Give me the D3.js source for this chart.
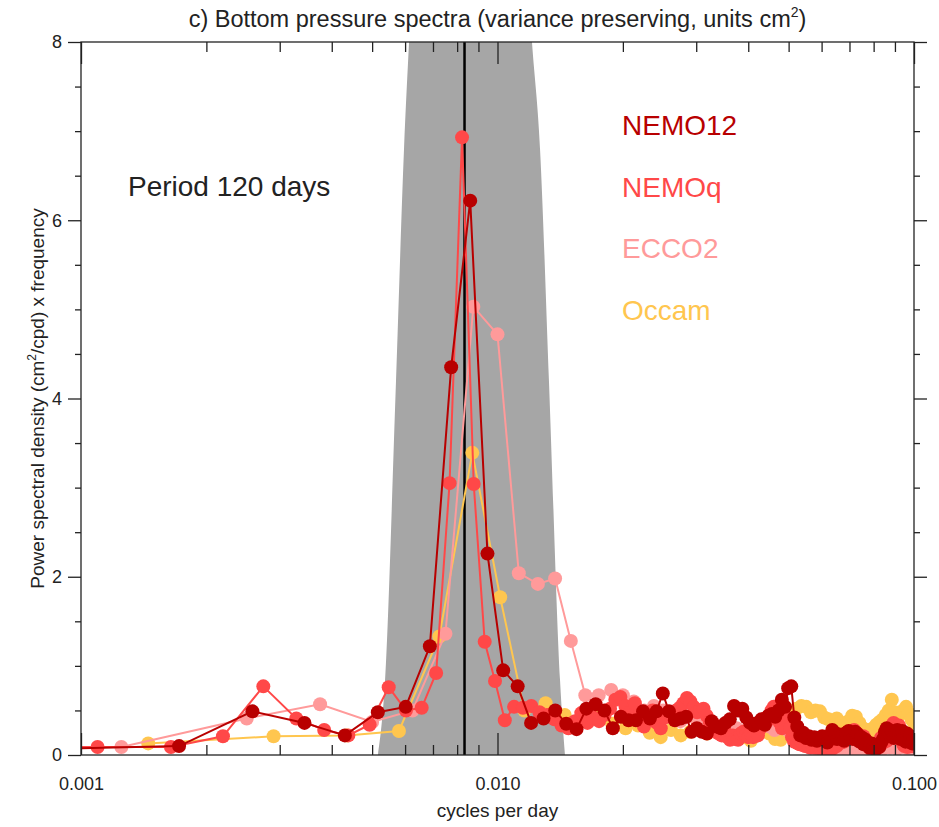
<!DOCTYPE html>
<html>
<head>
<meta charset="utf-8">
<script src="https://cdn.jsdelivr.net/npm/d3@7"></script>
<style>
  body { margin: 0; background: #fff; }
  svg text { font-family: "Liberation Sans", Arial, Helvetica, sans-serif; fill: #222; }
</style>
</head>
<body>
<div id="chart"></div>
<script>
// frequency spacing (cycles per day) of each spectral estimate, k = 1, 2, 3 ...
const nemo12Step = 0.00086;
const nemoqStep = 0.000548;
const ecco2Step = 0.00125;
const occamStep = 0.00145;

const nemo12Values = [
  0.07, 0.10, 0.49, 0.36, 0.22, 0.48, 0.54, 1.22, 4.35, 6.22,
  2.26, 0.95, 0.77, 0.36, 0.41, 0.50, 0.35, 0.29, 0.52, 0.57,
  0.50, 0.30, 0.43, 0.39, 0.39, 0.49, 0.41, 0.49, 0.69, 0.49,
  0.39, 0.41, 0.43, 0.26, 0.30, 0.26, 0.24, 0.38, 0.32, 0.30,
  0.36, 0.40, 0.55, 0.50, 0.52, 0.42, 0.36, 0.33, 0.36, 0.40,
  0.34, 0.44, 0.46, 0.43, 0.50, 0.62, 0.54, 0.75, 0.77, 0.42,
  0.32, 0.22, 0.25, 0.19, 0.21, 0.17, 0.20, 0.16, 0.19, 0.21,
  0.19, 0.14, 0.22, 0.28, 0.25, 0.18, 0.23, 0.22, 0.16, 0.25,
  0.27, 0.21, 0.18, 0.26, 0.24, 0.15, 0.20, 0.12, 0.17, 0.14,
  0.08, 0.13, 0.10, 0.06, 0.11, 0.09, 0.14, 0.18, 0.26, 0.30,
  0.24, 0.22, 0.27, 0.19, 0.25, 0.28, 0.22, 0.18, 0.27, 0.20,
  0.15, 0.24, 0.17, 0.21, 0.13, 0.18
];

const nemoqValues = [
  0.08, 0.09, 0.09, 0.21, 0.77, 0.41, 0.28, 0.22, 0.34, 0.76,
  0.50, 0.53, 0.92, 3.05, 6.93, 3.04, 1.27, 0.83, 0.39, 0.54,
  0.53, 0.55, 0.48, 0.45, 0.40, 0.33, 0.30, 0.38, 0.47, 0.36,
  0.42, 0.38, 0.45, 0.52, 0.62, 0.65, 0.55, 0.48, 0.58, 0.45,
  0.32, 0.40, 0.50, 0.36, 0.30, 0.42, 0.48, 0.44, 0.50, 0.53,
  0.58, 0.64, 0.60, 0.54, 0.48, 0.50, 0.52, 0.44, 0.37, 0.30,
  0.26, 0.24, 0.22, 0.28, 0.20, 0.17, 0.22, 0.18, 0.17, 0.24,
  0.26, 0.22, 0.20, 0.24, 0.20, 0.26, 0.22, 0.30, 0.35, 0.41,
  0.38, 0.44, 0.50, 0.54, 0.48, 0.40, 0.36, 0.30, 0.45, 0.42,
  0.38, 0.30, 0.20, 0.15, 0.18, 0.13, 0.12, 0.15, 0.11, 0.10,
  0.14, 0.09, 0.08, 0.12, 0.10, 0.08, 0.13, 0.09, 0.07, 0.10,
  0.08, 0.12, 0.06, 0.09, 0.11, 0.07, 0.08, 0.12, 0.10, 0.13,
  0.17, 0.14, 0.18, 0.15, 0.20, 0.17, 0.22, 0.26, 0.24, 0.26,
  0.28, 0.24, 0.20, 0.22, 0.18, 0.16, 0.19, 0.21, 0.17, 0.14,
  0.10, 0.12, 0.08, 0.06, 0.09, 0.07, 0.05, 0.08, 0.10, 0.12,
  0.15, 0.19, 0.17, 0.14, 0.18, 0.20, 0.16, 0.22, 0.19, 0.24,
  0.30, 0.34, 0.36, 0.28, 0.22, 0.25, 0.30, 0.33, 0.27, 0.20,
  0.15, 0.12, 0.10, 0.14, 0.11, 0.09, 0.13, 0.16, 0.12, 0.10,
  0.14, 0.11
];

const ecco2Values = [
  0.09, 0.41, 0.57, 0.37, 0.50, 1.36, 5.03, 4.72, 2.04, 1.92,
  1.98, 1.28, 0.67, 0.67, 0.73, 0.67, 0.60, 0.50, 0.55, 0.50,
  0.42, 0.38, 0.45, 0.40, 0.35, 0.30, 0.33, 0.28, 0.25, 0.30,
  0.27, 0.22, 0.26, 0.30, 0.35, 0.32, 0.28, 0.30, 0.33, 0.27,
  0.22, 0.18, 0.15, 0.12, 0.10, 0.08, 0.06, 0.07, 0.05, 0.06,
  0.04, 0.05, 0.03, 0.04, 0.06, 0.03, 0.02, 0.04, 0.05, 0.03,
  0.04, 0.07, 0.05, 0.08, 0.10, 0.07, 0.06, 0.09, 0.11, 0.08,
  0.12, 0.10, 0.07, 0.09, 0.12, 0.08, 0.10, 0.07, 0.09, 0.08
];

const occamValues = [
  0.13, 0.21, 0.22, 0.27, 1.33, 3.39, 1.77, 0.50, 0.58, 0.45,
  0.38, 0.42, 0.35, 0.30, 0.33, 0.25, 0.20, 0.28, 0.22, 0.26,
  0.30, 0.24, 0.28, 0.32, 0.25, 0.18, 0.20, 0.16, 0.22, 0.28,
  0.24, 0.18, 0.17, 0.30, 0.45, 0.52, 0.55, 0.54, 0.48, 0.50,
  0.49, 0.42, 0.40, 0.38, 0.41, 0.36, 0.33, 0.38, 0.44, 0.43,
  0.36, 0.30, 0.28, 0.26, 0.30, 0.34, 0.37, 0.40, 0.45, 0.50,
  0.62, 0.48, 0.42, 0.46, 0.50, 0.54, 0.47, 0.40, 0.36
];

// shaded pass band of the filter (clipped at the top of the plot)
const bandFreq = [0.005165, 0.00537, 0.005706, 0.005964, 0.006133, 0.0066, 0.0083,
                  0.0112, 0.0121, 0.01265, 0.01329, 0.01413, 0.01452];
const bandLevel = [0, 0.84, 4.2, 6.8, 8.0, 10.5, 14, 10.5, 8.0, 6.8, 4.2, 0.84, 0];

const periodDays = 120;

const seriesNames = ['NEMO12', 'NEMOq', 'ECCO2', 'Occam'];
const seriesColors = ['#b80000', '#ff4848', '#ff9a9a', '#ffc64f'];

const xTickValues = [0.001, 0.01, 0.1];
const xTickLabels = ['0.001', '0.010', '0.100'];
const yTickValues = [0, 2, 4, 6, 8];

const width = 939;
const height = 827;
const margin = { top: 42, right: 25, bottom: 72, left: 81 };
const w = width - margin.left - margin.right;
const h = height - margin.top - margin.bottom;

const svg = d3.select('#chart').append('svg')
  .attr('width', width)
  .attr('height', height);

const g = svg.append('g')
  .attr('transform', `translate(${margin.left},${margin.top})`);

const x = d3.scaleLog().domain([0.001, 0.1]).range([0, w]);
const y = d3.scaleLinear().domain([0, 8]).range([h, 0]);

g.append('clipPath').attr('id', 'plotClip')
  .append('rect').attr('width', w).attr('height', h);

const plot = g.append('g').attr('clip-path', 'url(#plotClip)');

// filter band
const band = bandFreq.map((f, i) => ({ f: f, v: bandLevel[i] }));
plot.append('path')
  .datum(band)
  .attr('fill', '#a6a6a6')
  .attr('d', d3.area().curve(d3.curveMonotoneX).x(d => x(d.f)).y0(y(0)).y1(d => y(d.v)));

// period line
plot.append('line')
  .attr('x1', x(1 / periodDays)).attr('x2', x(1 / periodDays))
  .attr('y1', 0).attr('y2', h)
  .attr('stroke', '#000')
  .attr('stroke-width', 2.5);

const toPoints = (values, step) => values.map((v, i) => ({ f: (i + 1) * step, v: v }));

const series = [
  { name: 'Occam', pts: toPoints(occamValues, occamStep) },
  { name: 'ECCO2', pts: toPoints(ecco2Values, ecco2Step) },
  { name: 'NEMOq', pts: toPoints(nemoqValues, nemoqStep) },
  { name: 'NEMO12', pts: toPoints(nemo12Values, nemo12Step) },
];

const color = d3.scaleOrdinal().domain(seriesNames).range(seriesColors);
const line = d3.line().x(d => x(d.f)).y(d => y(d.v));

series.forEach(s => {
  let sg = plot.append('g');
  sg.append('path')
    .datum(s.pts)
    .attr('fill', 'none')
    .attr('stroke', color(s.name))
    .attr('stroke-width', 2)
    .attr('d', line);
  sg.selectAll('circle')
    .data(s.pts)
    .enter()
    .append('circle')
    .attr('cx', d => x(d.f))
    .attr('cy', d => y(d.v))
    .attr('r', 7)
    .attr('fill', color(s.name));
});

// axes: x ticks point inward, y ticks outward
const xMinor = x.ticks().filter(t => xTickValues.indexOf(t) < 0);
const yMinor = d3.range(0, 8.01, 0.5).filter(t => t % 2 !== 0);

const axisStyle = (sel) => {
  sel.select('.domain').remove();
  sel.selectAll('.tick line').attr('stroke', '#222').attr('stroke-width', 1.3);
  sel.selectAll('.tick text').attr('fill', '#222').style('font-size', '18px');
};

g.append('g').attr('transform', `translate(0,${h})`)
  .call(d3.axisBottom(x).tickValues(xTickValues).tickSize(-22).tickPadding(22)
    .tickFormat((d, i) => xTickLabels[i]))
  .call(axisStyle);
g.append('g').attr('transform', `translate(0,${h})`)
  .call(d3.axisBottom(x).tickValues(xMinor).tickSize(-10).tickFormat(''))
  .call(axisStyle);
g.append('g')
  .call(d3.axisTop(x).tickValues(xTickValues).tickSize(-22).tickFormat(''))
  .call(axisStyle);
g.append('g')
  .call(d3.axisTop(x).tickValues(xMinor).tickSize(-10).tickFormat(''))
  .call(axisStyle);

g.append('g')
  .call(d3.axisLeft(y).tickValues(yTickValues).tickSize(13).tickPadding(6).tickFormat(d3.format('d')))
  .call(axisStyle);
g.append('g')
  .call(d3.axisLeft(y).tickValues(yMinor).tickSize(6).tickFormat(''))
  .call(axisStyle);
g.append('g').attr('transform', `translate(${w},0)`)
  .call(d3.axisRight(y).tickValues(yTickValues).tickSize(13).tickFormat(''))
  .call(axisStyle);
g.append('g').attr('transform', `translate(${w},0)`)
  .call(d3.axisRight(y).tickValues(yMinor).tickSize(6).tickFormat(''))
  .call(axisStyle);

g.append('rect')
  .attr('width', w).attr('height', h)
  .attr('fill', 'none')
  .attr('stroke', '#222')
  .attr('stroke-width', 1.3);

// title and axis labels
const title = svg.append('text')
  .attr('x', margin.left + w / 2)
  .attr('y', 27)
  .attr('text-anchor', 'middle')
  .style('font-size', '23.5px');
title.append('tspan').text('c) Bottom pressure spectra (variance preserving, units cm');
title.append('tspan').attr('dy', -10).style('font-size', '14px').text('2');
title.append('tspan').attr('dy', 10).text(')');

svg.append('text')
  .attr('x', margin.left + w / 2)
  .attr('y', 817)
  .attr('text-anchor', 'middle')
  .style('font-size', '19px')
  .text('cycles per day');

const ylab = svg.append('text')
  .attr('transform', `translate(44,${margin.top + h / 2}) rotate(-90)`)
  .attr('text-anchor', 'middle')
  .style('font-size', '19px');
ylab.append('tspan').text('Power spectral density (cm');
ylab.append('tspan').attr('dy', -8).style('font-size', '12px').text('2');
ylab.append('tspan').attr('dy', 8).text('/cpd) x frequency');

svg.append('text')
  .attr('x', 128)
  .attr('y', 196)
  .style('font-size', '28px')
  .text('Period 120 days');

svg.selectAll('text.legend')
  .data(seriesNames)
  .enter()
  .append('text')
  .attr('class', 'legend')
  .attr('x', 622)
  .attr('y', (d, i) => 135 + i * 61.7)
  .style('font-size', '28px')
  .style('fill', d => color(d))
  .text(d => d);
</script>
</body>
</html>
